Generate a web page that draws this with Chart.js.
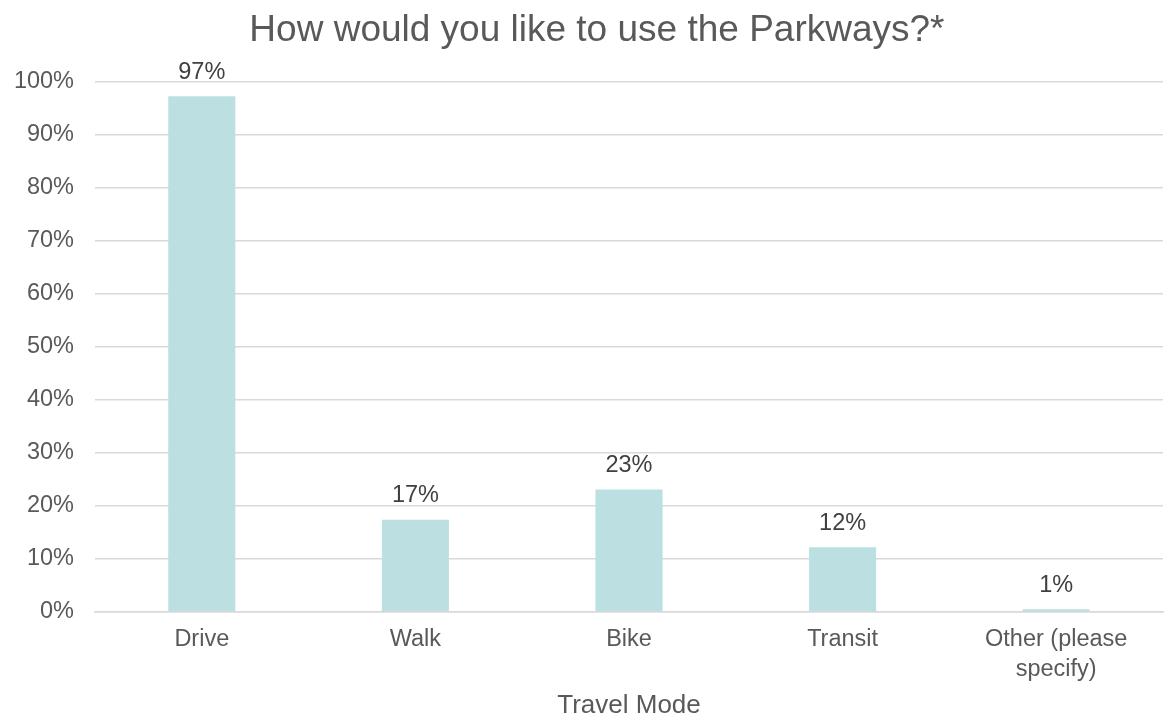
<!DOCTYPE html>
<html>
<head>
<meta charset="utf-8">
<script src="https://cdn.jsdelivr.net/npm/chart.js@4/dist/chart.umd.min.js"></script>
<style>
  html, body { margin: 0; padding: 0; background: #fff; }
  #wrap { width: 1167px; height: 715px; }
</style>
</head>
<body>
<div id="wrap"><canvas id="chart" width="1167" height="715"></canvas></div>
<script>
const categories = ['Drive', 'Walk', 'Bike', 'Transit', ['Other (please', 'specify)']];
const shares = [97.2, 17.4, 23.1, 12.2, 0.5];
const yTicks = [0, 10, 20, 30, 40, 50, 60, 70, 80, 90, 100];

const textGrey = '#595959';
const gridGrey = '#d9d9d9';
const barColor = '#bce0e2';
const fontFamily = '"Liberation Sans", Arial, sans-serif';

// data labels drawn above each bar
const barLabels = {
    id: 'barLabels',
    afterDatasetsDraw(chart) {
        const ctx = chart.ctx;
        const meta = chart.getDatasetMeta(0);
        ctx.save();
        ctx.font = '23.5px ' + fontFamily;
        ctx.fillStyle = '#404040';
        ctx.textAlign = 'center';
        ctx.textBaseline = 'middle';
        meta.data.forEach((bar, i) => {
            ctx.fillText(Math.round(shares[i]) + '%', bar.x, bar.y - 24);
        });
        ctx.restore();
    }
};

new Chart(document.getElementById('chart'), {
    type: 'bar',
    data: {
        labels: categories,
        datasets: [{
            data: shares,
            backgroundColor: barColor,
            borderWidth: 0,
            categoryPercentage: 1,
            barPercentage: 0.314,
        }],
    },
    options: {
        responsive: false,
        animation: false,
        layout: { padding: { left: 0, right: 4, top: 0, bottom: 0 } },
        plugins: {
            legend: { display: false },
            tooltip: { enabled: false },
            title: {
                display: true,
                text: '   How would you like to use the Parkways?*',
                color: textGrey,
                font: { family: fontFamily, size: 37, weight: 'normal', lineHeight: 1.2 },
                padding: { top: 9, bottom: 28 },
            },
        },
        scales: {
            x: {
                grid: { display: false, drawTicks: false },
                border: { display: true, color: gridGrey, width: 1.5 },
                ticks: {
                    color: textGrey,
                    padding: 13,
                    maxRotation: 0,
                    font: { family: fontFamily, size: 23.5, lineHeight: 1.25 },
                },
                title: {
                    display: true,
                    text: 'Travel Mode',
                    color: textGrey,
                    padding: { top: 0, bottom: -4 },
                    font: { family: fontFamily, size: 26, lineHeight: 1 },
                },
                afterFit(scale) { scale.height = 103; },
            },
            y: {
                min: 0,
                max: 100,
                afterBuildTicks(scale) { scale.ticks = yTicks.map(v => ({ value: v })); },
                grid: { color: gridGrey, lineWidth: 1.5, drawTicks: false },
                border: { display: false },
                ticks: {
                    color: textGrey,
                    padding: 21,
                    font: { family: fontFamily, size: 23.5 },
                    callback: v => v + '%',
                },
                afterFit(scale) { scale.width = 95; },
            },
        },
    },
    plugins: [barLabels],
});
</script>
</body>
</html>
